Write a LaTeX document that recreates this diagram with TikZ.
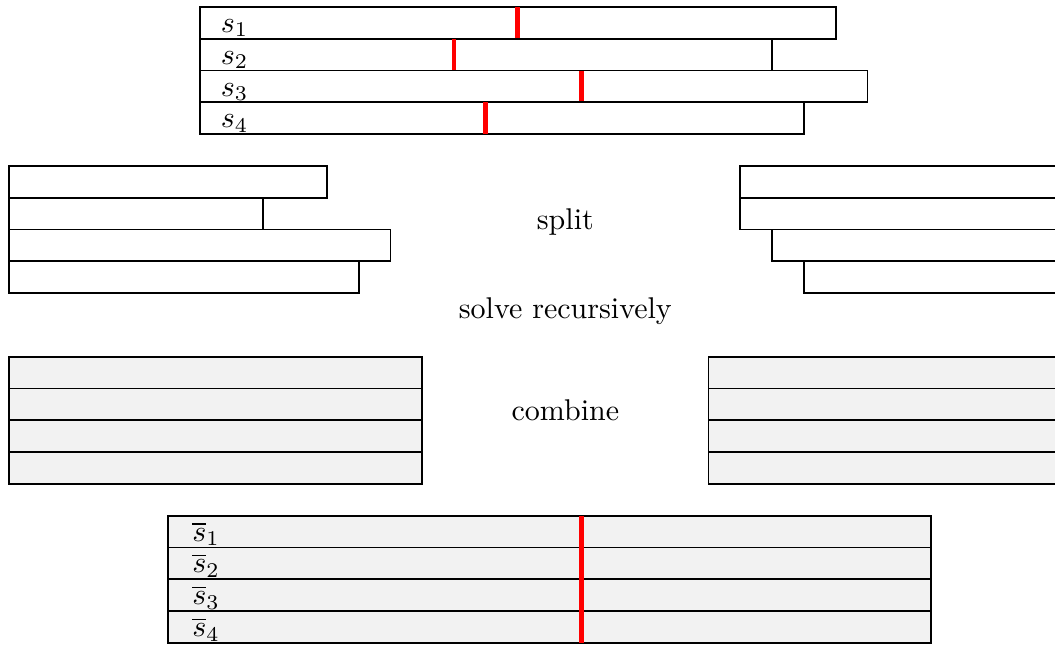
\documentclass[tikz,border=0pt]{standalone}
\begin{document}
\begin{tikzpicture}[
  x=10.6pt, y=10.6pt,
  line width=0.6pt,
  line cap=butt, line join=miter,
  strip/.style={draw=black},
  donestrip/.style={draw=black, fill=black!5},
  cutline/.style={draw=red, line width=1.6pt},
  every node/.style={inner sep=0pt}
]
  \useasboundingbox (-0.28,-0.04) rectangle (32.9,20.22);
  % ---- 输入：s_1..s_4 与切分位置 ----
  \foreach \i/\len/\cut in {1/20/10, 2/18/8, 3/21/12, 4/19/9} {
    \draw[strip] (6,20-\i) rectangle ++(\len,1);
    \draw[cutline] (6+\cut,20-\i) -- ++(0,1);
    \node[anchor=base] (s\i) at (7.1,20.2-\i) {$s_{\i}$};
  }
  % ---- 切分后的左右两半 ----
  \foreach \i/\len in {1/10, 2/8, 3/12, 4/11}
    \draw[strip] (0,15-\i) rectangle ++(\len,1);
  \foreach \i/\xl in {1/23, 2/23, 3/24, 4/25}
    \draw[strip] (\xl,15-\i) rectangle (33,16-\i);
  % ---- 递归求解后的两块 ----
  \foreach \i in {1,...,4} {
    \draw[donestrip] (0,9-\i) rectangle (13,10-\i);
    \draw[donestrip] (22,9-\i) rectangle (33,10-\i);
  }
  % ---- 合并结果 ----
  \foreach \i in {1,...,4} {
    \draw[donestrip] (5,4-\i) rectangle (29,5-\i);
    \node[anchor=base] (sbar\i) at (6.2,4.2-\i) {$\overline{s}_{\i}$};
  }
  \draw[cutline] (18,0) -- (18,4);
  % ---- 文字 ----
  \node[anchor=base] (split)   at (17.5,13)    {split};
  \node[anchor=base] (solve)   at (17.5,10.2)  {solve recursively};
  \node[anchor=base] (combine) at (17.5,7)     {combine};
\end{tikzpicture}
\end{document}
